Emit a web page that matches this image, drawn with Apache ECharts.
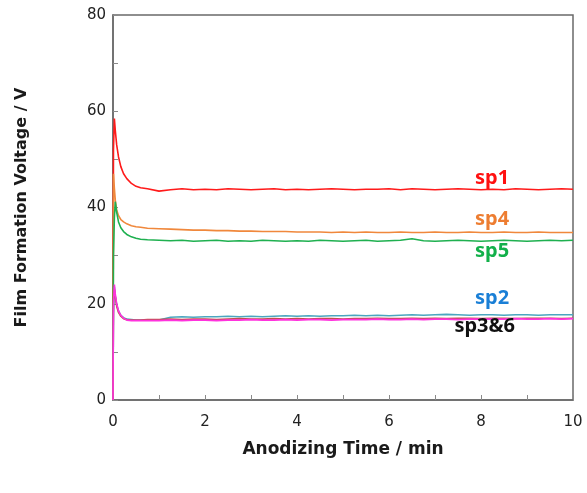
<!DOCTYPE html>
<html>
<head>
<meta charset="utf-8">
<script src="https://cdn.jsdelivr.net/npm/echarts@6/dist/echarts.min.js"></script>
<style>html,body{margin:0;padding:0;background:#fff}#c{width:587px;height:493px}</style>
</head>
<body>
<div id="c"></div>
<script>
// Anodizing time (min)
var times = [0, 0.01, 0.03, 0.05, 0.08, 0.12, 0.17, 0.23, 0.3, 0.4, 0.5, 0.6, 0.75,
  1, 1.25, 1.5, 1.75, 2, 2.25, 2.5, 2.75, 3, 3.25, 3.5, 3.75, 4, 4.25, 4.5, 4.75,
  5, 5.25, 5.5, 5.75, 6, 6.25, 6.5, 6.75, 7, 7.25, 7.5, 7.75, 8, 8.25, 8.5, 8.75,
  9, 9.25, 9.5, 9.75, 10];

var sp1 = [0, 52, 58.5, 56, 53, 50.5, 48.5, 47, 46, 45, 44.4, 44.1, 43.9,
  43.4, 43.7, 43.9, 43.7, 43.8, 43.7, 43.9, 43.8, 43.7, 43.8, 43.9, 43.7, 43.8, 43.7, 43.8, 43.9,
  43.8, 43.7, 43.8, 43.8, 43.9, 43.7, 43.9, 43.8, 43.7, 43.8, 43.9, 43.8, 43.7, 43.8, 43.7, 43.9,
  43.8, 43.7, 43.8, 43.9, 43.8];

var sp4 = [0, 47, 44, 41.5, 39.5, 38.3, 37.5, 37, 36.6, 36.2, 36, 35.9, 35.7,
  35.6, 35.5, 35.4, 35.3, 35.3, 35.2, 35.2, 35.1, 35.1, 35.0, 35.0, 35.0, 34.9, 34.9, 34.9, 34.8,
  34.9, 34.8, 34.9, 34.8, 34.8, 34.9, 34.8, 34.8, 34.9, 34.8, 34.8, 34.9, 34.8, 34.8, 34.9, 34.8,
  34.8, 34.9, 34.8, 34.8, 34.8];

var sp5 = [0, 30, 38, 41.2, 39, 37, 35.8, 35, 34.4, 33.9, 33.6, 33.4, 33.3,
  33.2, 33.1, 33.2, 33.0, 33.1, 33.2, 33.0, 33.1, 33.0, 33.2, 33.1, 33.0, 33.1, 33.0, 33.2, 33.1,
  33.0, 33.1, 33.2, 33.0, 33.1, 33.2, 33.5, 33.1, 33.0, 33.1, 33.2, 33.1, 33.0, 33.1, 33.2, 33.1,
  33.0, 33.1, 33.2, 33.1, 33.2];

var sp2 = [0, 18, 23.5, 21.5, 19.8, 18.5, 17.6, 17.1, 16.8, 16.7, 16.6, 16.6, 16.6,
  16.6, 17.2, 17.3, 17.2, 17.3, 17.3, 17.4, 17.3, 17.4, 17.3, 17.4, 17.5, 17.4, 17.5, 17.4, 17.5,
  17.5, 17.6, 17.5, 17.6, 17.5, 17.6, 17.7, 17.6, 17.7, 17.8, 17.7, 17.6, 17.7, 17.7, 17.6, 17.7,
  17.7, 17.6, 17.7, 17.7, 17.7];

var sp6 = [0, 21, 23, 21.5, 19.5, 18.2, 17.4, 16.9, 16.7, 16.6, 16.6, 16.6, 16.7,
  16.7, 16.8, 16.7, 16.8, 16.8, 16.7, 16.8, 16.9, 16.8, 16.8, 16.9, 16.8, 16.9, 16.8, 16.9, 16.9,
  16.8, 16.9, 16.9, 17.0, 16.9, 16.9, 17.0, 16.9, 17.0, 16.9, 17.0, 17.0, 16.9, 17.0, 17.0, 16.9,
  17.0, 17.0, 17.0, 16.9, 17.0];

var sp3 = [0, 20, 24, 22, 20, 18.5, 17.6, 17.0, 16.6, 16.5, 16.5, 16.5, 16.5,
  16.5, 16.6, 16.5, 16.6, 16.6, 16.5, 16.6, 16.6, 16.7, 16.6, 16.6, 16.7, 16.6, 16.7, 16.7, 16.6,
  16.7, 16.7, 16.7, 16.8, 16.7, 16.7, 16.8, 16.7, 16.8, 16.8, 16.7, 16.8, 16.8, 16.8, 16.8, 16.9,
  16.8, 16.8, 16.9, 16.8, 16.9];

var seriesNames = ['sp1', 'sp4', 'sp5', 'sp2', 'sp6', 'sp3'];
var seriesValues = [sp1, sp4, sp5, sp2, sp6, sp3];
var seriesColors = ['#ff1a1a', '#f0883c', '#1fb050', '#4ba6bf', '#c0504d', '#ff33dd'];

// annotation labels
var labelText = ['sp1', 'sp4', 'sp5', 'sp2', 'sp3&6'];
var labelX = [8.24, 8.24, 8.24, 8.24, 8.08];
var labelY = [46.1, 37.6, 31.0, 21.2, 15.4];
var labelColors = ['#ff1010', '#ed7d31', '#12b04a', '#1a7fd6', '#111111'];

function zip(xs, ys) { return xs.map(function (x, i) { return [x, ys[i]]; }); }

var series = seriesNames.map(function (n, k) {
  return {
    name: n, type: 'line', data: zip(times, seriesValues[k]),
    showSymbol: false, symbol: 'none', smooth: false,
    lineStyle: { color: seriesColors[k], width: 1.6 },
    z: 2 + k
  };
});
series.push({
  type: 'scatter', symbolSize: 1, z: 20,
  itemStyle: { opacity: 0 },
  data: labelText.map(function (t, i) {
    return {
      value: [labelX[i], labelY[i]],
      label: { show: true, position: 'inside', formatter: t, color: labelColors[i], opacity: 1,
        fontSize: 20, fontWeight: 'bold', fontFamily: 'Noto Sans' }
    };
  })
});

var chart = echarts.init(document.getElementById('c'));
chart.setOption({
  animation: false,
  backgroundColor: '#fff',
  grid: { left: 113, right: 14, top: 15, bottom: 93, show: true, borderColor: '#6a6a6a', borderWidth: 1.5, backgroundColor: 'transparent' },
  xAxis: {
    type: 'value', min: 0, max: 10, interval: 2,
    name: 'Anodizing Time / min', nameLocation: 'middle', nameGap: 41,
    nameTextStyle: { fontSize: 17, fontWeight: 'bold', color: '#1a1a1a', fontFamily: 'DejaVu Sans' },
    axisLine: { show: true, lineStyle: { color: '#6a6a6a', width: 1.5 } },
    axisTick: { show: true, inside: true, length: 5, lineStyle: { color: '#8a8a8a' } },
    minorTick: { show: true, splitNumber: 2, length: 5, lineStyle: { color: '#8a8a8a' } },
    axisLabel: { fontSize: 15, color: '#222', margin: 15, fontFamily: 'DejaVu Sans' },
    splitLine: { show: false }
  },
  yAxis: {
    type: 'value', min: 0, max: 80, interval: 20,
    name: 'Film Formation Voltage / V', nameLocation: 'middle', nameGap: 83,
    nameTextStyle: { fontSize: 16, fontWeight: 'bold', color: '#1a1a1a', fontFamily: 'DejaVu Sans' },
    axisLine: { show: true, lineStyle: { color: '#6a6a6a', width: 1.5 } },
    axisTick: { show: true, inside: true, length: 5, lineStyle: { color: '#8a8a8a' } },
    minorTick: { show: true, splitNumber: 2, length: 5, lineStyle: { color: '#8a8a8a' } },
    axisLabel: { fontSize: 15, color: '#222', margin: 7, fontFamily: 'DejaVu Sans' },
    splitLine: { show: false }
  },
  series: series
});
</script>
</body>
</html>
